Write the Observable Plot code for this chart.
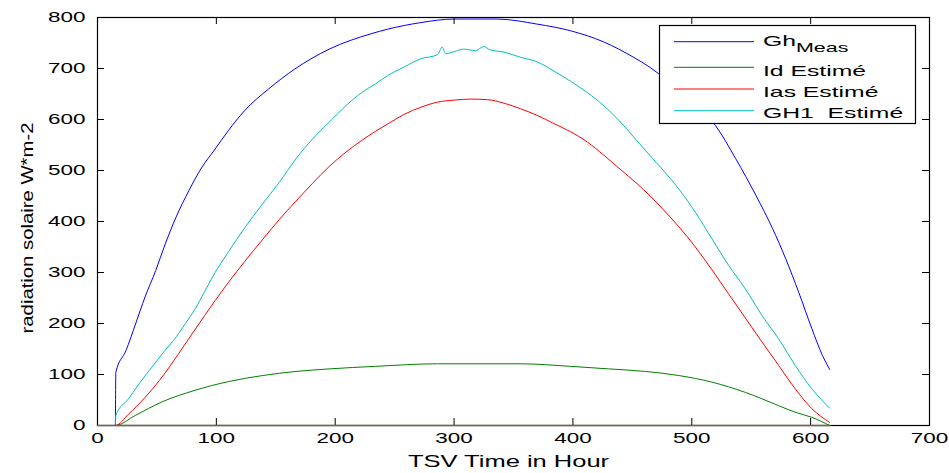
<!DOCTYPE html>
<html><head><meta charset="utf-8">
<script src="https://cdn.jsdelivr.net/npm/d3@7"></script>
<script src="https://cdn.jsdelivr.net/npm/@observablehq/plot@0.6"></script>
<style>
html,body{margin:0;padding:0;background:#fff;}
#chart{position:relative;width:949px;height:473px;}
</style></head><body><div id="chart"></div>
<script>
// ---- data ----
const ghX  = [0,15,15.4,24,32,40,49,57,66,77,88,98,110,124,144,166,195,230,244,272,300,336,370,398,426,451,465,472,490,505,520,537,554,568,579,590,601,610,616];
const ghY  = [0,0,104,147,199,252,304,356,408,461,507,539,578,618,660,699,738,768,777,790,797,797,787,774,752,722,702,690,660,628,588,523,451,386,327,261,190,137,110];
const idX  = [0,15,32,54,82,110,139,167,195,234,286,356,398,430,461,489,517,545,573,587,601,616];
const idY  = [0,0,20,46,69,86,98,106,111,116,121,121,116,111,106,98,85,65,39,26,16,0];
const iasX = [0,15,26,40,52,68,82,99,110,124,139,153,167,181,195,209,223,234,244,258,272,286,300,314,328,342,356,370,384,398,412,426,440,454,465,475,489,503,517,531,545,559,573,587,601,616];
const iasY = [0,0,22,55,88,140,188,245,280,322,365,404,440,475,508,536,560,577,591,610,624,634,638,640,639,632,621,608,592,576,556,530,502,474,450,426,390,350,305,258,211,164,118,72,33,6];
const gh1X = [0,15,15.4,26,36,46,56,64,74,82,90,99,110,124,139,153,167,181,195,209,223,234,244,258,272,286,290,293,300,308,318,325,330,342,356,370,384,398,412,426,440,454,465,475,489,503,517,531,545,559,573,587,601,616];
const gh1Y = [0,0,20,52,85,115,145,167,200,228,262,300,340,388,435,477,523,562,595,627,654,670,686,703,719,727,742,729,733,738,735,743,737,732,722,713,695,675,653,627,595,558,529,503,464,418,366,314,268,216,170,118,72,34];
const baseX = [0,616];
const baseY = [0,0];

const xTicks = [0,100,200,300,400,500,600,700];
const yTicks = [0,100,200,300,400,500,600,700,800];
const xLabel = "TSV Time in Hour";
const yLabel = "radiation solaire W*m-2";
const seriesNames  = ["Gh", "Id Estimé", "Ias Estimé", "GH1  Estimé"];
const seriesSub    = ["Meas", "", "", ""];
const seriesColors = ["#0000ff", "#008000", "#ff0000", "#00bfbf"];
const baseColor = "#76644f";

const toRows = (xs, ys) => xs.map((x, i) => ({x, y: ys[i]}));
const series = [toRows(ghX, ghY), toRows(idX, idY), toRows(iasX, iasY), toRows(gh1X, gh1Y)];

// ---- layout ----
const W = 949, H = 473, mL = 97, mR = 20, mT = 17, mB = 48;
const fw = W - mL - mR, fh = H - mT - mB, TL = 7;
const FONT = "'Liberation Sans', Arial, Helvetica, sans-serif";

const plot = Plot.plot({
  width: W, height: H,
  marginLeft: mL, marginRight: mR, marginTop: mT, marginBottom: mB,
  style: {fontFamily: FONT, fontSize: "15px", background: "white", color: "black", overflow: "visible"},
  x: {domain: [0, 700]},
  y: {domain: [0, 800]},
  marks: [
    Plot.axisX({ticks: xTicks, tickSize: 0, tickPadding: 7, label: null, fontSize: 15, tickFormat: d => String(d)}),
    Plot.axisY({ticks: yTicks, tickSize: 0, tickPadding: 12, label: null, fontSize: 15, tickFormat: d => String(d)}),
    ...series.map((s, i) => Plot.line(s, {x: "x", y: "y", stroke: seriesColors[i], strokeWidth: 1, curve: "monotone-x"})),
    Plot.frame({stroke: "black", strokeWidth: 1.2}),
    Plot.tickX(xTicks, {x: d => d, insetTop: fh - TL, stroke: "black"}),
    Plot.tickX(xTicks, {x: d => d, insetBottom: fh - TL, stroke: "black"}),
    Plot.tickY(yTicks, {y: d => d, insetRight: fw - TL, stroke: "black"}),
    Plot.tickY(yTicks, {y: d => d, insetLeft: fw - TL, stroke: "black"}),
    Plot.line(toRows(baseX, baseY), {x: "x", y: "y", stroke: baseColor, strokeWidth: 1.6}),
    Plot.text([xLabel], {text: d => d, frameAnchor: "bottom", dx: -5, dy: 36, lineAnchor: "middle", fontSize: 17})
  ]
});
document.getElementById("chart").appendChild(plot);

// stretch glyphs along the text direction, as in the reference export
function stretch(node, s) {
  const L = node.getComputedTextLength();
  node.setAttribute("textLength", (L * s).toFixed(1));
  node.setAttribute("lengthAdjust", "spacingAndGlyphs");
}
const svg = d3.select(plot);
svg.selectAll('g[aria-label="x-axis tick label"] text').each(function () { stretch(this, 1.5); });
svg.selectAll('g[aria-label="y-axis tick label"] text').each(function () { stretch(this, 1.5); });
svg.selectAll('g[aria-label="text"] text').each(function () {
  if (this.textContent === xLabel) stretch(this, 1.5);
});

// y-axis title, rotated, centred on the left of the axes
svg.append("g").attr("transform", `translate(33,${mT + fh / 2 + 7}) rotate(-90) scale(1.27,1)`)
  .append("text").attr("font-family", FONT).attr("font-size", 16).attr("fill", "black")
  .attr("text-anchor", "middle").text(yLabel);

// legend (inside the axes, top right, like the MATLAB legend box)
const lg = svg.append("g").attr("font-family", FONT).attr("text-anchor", "start");
lg.append("rect").attr("x", 659.5).attr("y", 25.5).attr("width", 256).attr("height", 98)
  .attr("fill", "white").attr("stroke", "black").attr("stroke-width", 1.2);
const lineYs = [41.7, 67.3, 89, 110.7];
const baseYs = [45.7, 76, 97.3, 118.3];
seriesNames.forEach((name, i) => {
  lg.append("line").attr("x1", 674).attr("x2", 754).attr("y1", lineYs[i]).attr("y2", lineYs[i])
    .attr("stroke", seriesColors[i]).attr("stroke-width", 1);
  const g = lg.append("g").attr("transform", `translate(763,${baseYs[i]}) scale(1.65,1)`);
  const t = g.append("text").attr("font-size", 15).attr("fill", "black")
    .attr("text-anchor", "start").style("white-space", "pre").text(name);
  if (seriesSub[i]) t.append("tspan").attr("dy", 6).attr("font-size", 13).text(seriesSub[i]);
});
</script>
</body></html>
